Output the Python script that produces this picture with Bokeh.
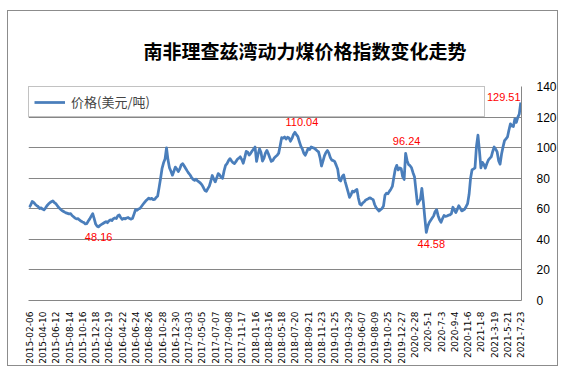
import math
from bokeh.plotting import figure
from bokeh.models import Range1d, FixedTicker, Legend, LegendItem, ColumnDataSource
from bokeh.core.properties import value
from bokeh.embed import file_html
from bokeh.resources import INLINE

title_text = "南非理查兹湾动力煤价格指数变化走势"
series_name = "价格(美元/吨)"

tick_labels = ["2015-02-06", "2015-04-10", "2015-06-12", "2015-08-14", "2015-10-16", "2015-12-18",
               "2016-02-19", "2016-04-22", "2016-06-24", "2016-08-26", "2016-10-28", "2016-12-30",
               "2017-03-03", "2017-05-05", "2017-07-07", "2017-09-08", "2017-11-17",
               "2018-01-16", "2018-03-16", "2018-05-18", "2018-07-20", "2018-09-21", "2018-11-23",
               "2019-01-25", "2019-03-29", "2019-06-07", "2019-08-09", "2019-10-25", "2019-12-27",
               "2020-2-28", "2020-5-1", "2020-7-3", "2020-9-4", "2020-11-6",
               "2021-1-8", "2021-3-19", "2021-5-21", "2021-7-23"]
label_step = 9

prices = [
    61.0, 62.5, 64.8, 64.2, 63.0, 62.1, 61.5, 60.2, 60.6, 59.8,
    59.3, 60.5, 62.0, 63.1, 64.0, 64.6, 65.2, 64.1, 63.4, 62.0,
    60.8, 59.9, 59.0, 58.4, 57.8, 57.3, 57.0, 56.6, 56.9, 55.6,
    54.8, 53.9, 53.4, 53.6, 52.7, 52.0, 51.4, 51.0, 50.1, 50.3,
    52.0, 53.4, 55.2, 56.8, 53.5, 50.0, 48.6, 48.16, 49.2, 49.8,
    50.4, 51.0, 51.6, 50.9, 52.1, 52.8, 52.3, 53.5, 54.0, 53.6,
    55.4, 55.9, 54.2, 53.1, 53.8, 53.4, 54.0, 54.3, 53.6, 53.2,
    53.8, 56.5, 59.4, 59.0, 59.9, 60.2, 61.5, 62.8, 64.0, 65.2,
    66.1, 67.0, 66.4, 66.8, 66.0, 66.2, 67.4, 68.3, 74.0, 80.0,
    86.5, 90.1, 92.5, 99.8, 92.0, 86.8, 84.5, 82.0, 84.6, 87.3,
    86.0, 84.4, 86.1, 88.8, 89.5, 88.0, 86.4, 84.8, 83.3, 82.1,
    80.5, 79.2, 78.6, 79.4, 78.3, 77.6, 76.8, 75.6, 73.9, 72.0,
    71.5, 73.2, 74.8, 78.0, 81.8, 79.5, 77.6, 80.1, 83.0, 82.2,
    80.6, 80.0, 84.8, 88.4, 89.6, 91.5, 92.8, 91.4, 90.2, 89.6,
    90.8, 92.4, 93.1, 94.0, 92.2, 89.8, 93.5, 97.6, 97.0, 95.1,
    96.3, 97.8, 99.1, 100.4, 91.0, 95.5, 99.2, 97.0, 91.2, 93.0,
    96.4, 98.2, 96.0, 93.4, 91.0, 91.5, 93.3, 94.2, 95.0, 96.4,
    101.2, 106.5, 106.2, 107.0, 105.6, 106.8, 106.3, 104.2, 106.0, 108.6,
    110.04, 108.5, 107.2, 104.0, 101.0, 99.2, 96.4, 95.0, 97.2, 99.5,
    98.8, 100.4, 100.0, 99.7, 98.9, 98.0, 97.2, 93.5, 88.0, 91.2,
    94.6, 96.8, 98.1, 96.4, 93.5, 91.8, 91.5, 90.8, 88.4, 85.8,
    79.0, 78.2, 81.0, 82.2, 78.0, 74.5, 71.0, 67.5, 69.2, 71.6,
    71.0, 72.0, 72.6, 67.0, 63.0, 62.4, 63.9, 64.6, 65.8, 66.2,
    66.8, 67.2, 66.5, 66.0, 62.8, 60.8, 59.6, 58.5, 59.4, 60.2,
    61.8, 68.8, 70.2, 69.8, 71.4, 72.8, 74.6, 80.5, 86.0, 88.4,
    85.4, 86.8, 86.2, 81.0, 79.2, 96.24, 91.5, 88.9, 88.2, 86.8,
    83.6, 81.0, 72.0, 63.0, 64.8, 66.2, 73.4, 64.5, 54.0, 44.58,
    48.6, 51.0, 52.5, 54.0, 55.4, 58.2, 59.4, 55.5, 52.8, 51.2,
    53.6, 55.6, 55.0, 55.3, 55.8, 56.0, 56.8, 61.0, 59.2, 57.5,
    59.6, 62.0, 60.4, 58.6, 59.0, 59.8, 61.5, 63.4, 69.5, 80.0,
    85.6, 86.0, 86.8, 101.0, 108.2, 98.0, 86.8, 90.4, 89.0, 86.6,
    89.5, 91.8, 93.0, 94.0, 97.5, 100.4, 99.0, 97.2, 91.5, 89.2,
    95.8, 100.5, 104.6, 105.8, 107.0, 111.5, 115.6, 114.2, 113.8, 118.8,
    116.5, 119.8, 122.0, 129.51,
]

# indices of annotated extreme points
note_index = [47, 180, 255, 269, 333]
note_dx = [0, 7, 1, 5, -17]
note_dy = [10, -10, -12, 12, -6]

y_ticks = [0, 20, 40, 60, 80, 100, 120, 140]

GRID = "#868686"
BLUE = "#4A7EBB"

idx = list(range(len(prices)))

p = figure(width=551, height=356, output_backend="svg", toolbar_location=None,
           x_range=Range1d(-0.5, len(prices) - 0.5), y_range=Range1d(0, 140),
           y_axis_location="right",
           min_border_left=20, min_border_right=37, min_border_top=75, min_border_bottom=67,
           styles={"margin-left": "7px", "margin-top": "10px", "border": "1px solid #8c8c8c"})
p.outline_line_color = None
p.background_fill_color = "white"
p.border_fill_color = "white"

p.title.text = title_text
p.title.align = "left"
p.title.offset = 115
p.title.standoff = 45
p.title.text_line_height = 1.0
p.title.text_font = "Noto Sans CJK SC"
p.title.text_font_size = "19px"
p.title.text_font_style = "bold"
p.title.text_color = "black"

# x axis
tick_pos = [i * label_step for i in range(len(tick_labels))]
p.xaxis.ticker = FixedTicker(ticks=tick_pos)
p.xaxis.major_label_overrides = {t: lab for t, lab in zip(tick_pos, tick_labels)}
p.xaxis.major_label_orientation = math.pi / 2
p.xaxis.major_label_text_font = "DejaVu Sans"
p.xaxis.major_label_text_font_size = "9px"
p.xaxis.major_label_text_color = "black"
p.xaxis.major_label_standoff = 5
p.xaxis.axis_line_color = GRID
p.xaxis.major_tick_line_color = None
p.xaxis.minor_tick_line_color = None
p.xgrid.visible = False

# y axis (right)
p.yaxis.ticker = FixedTicker(ticks=y_ticks)
p.yaxis.major_label_text_font = "Liberation Sans"
p.yaxis.major_label_text_font_size = "12px"
p.yaxis.major_label_text_color = "black"
p.yaxis.major_label_standoff = 9
p.yaxis.axis_line_color = GRID
p.yaxis.major_tick_line_color = None
p.yaxis.minor_tick_line_color = None
p.ygrid.ticker = FixedTicker(ticks=y_ticks)
p.ygrid.grid_line_color = GRID

r = p.line(x=idx, y=prices, line_color=BLUE, line_width=2.75, line_join="round")

notes = ColumnDataSource(dict(
    x=note_index,
    y=[prices[i] for i in note_index],
    text=[f"{prices[i]:.2f}" for i in note_index],
    dx=note_dx,
    dy=note_dy,
))
p.text(x="x", y="y", text="text", x_offset="dx", y_offset="dy", source=notes,
       text_color="#FF0000", text_font=value("Liberation Sans"), text_font_size="11px",
       text_align="center", text_baseline="middle")

legend = Legend(items=[LegendItem(label=series_name, renderers=[r])], location="top_left")
legend.margin = 0
legend.padding = 5
legend.spacing = 0
legend.glyph_width = 31
legend.glyph_height = 14
legend.label_height = 14
legend.label_standoff = 6
legend.label_width = 408
legend.label_text_font = "Noto Sans CJK SC"
legend.label_text_font_size = "13px"
legend.label_text_line_height = 1.0
legend.border_line_color = GRID
legend.border_line_width = 1
legend.background_fill_color = "white"
legend.background_fill_alpha = 1
p.add_layout(legend)

open("out.html", "w").write(file_html(p, INLINE))
